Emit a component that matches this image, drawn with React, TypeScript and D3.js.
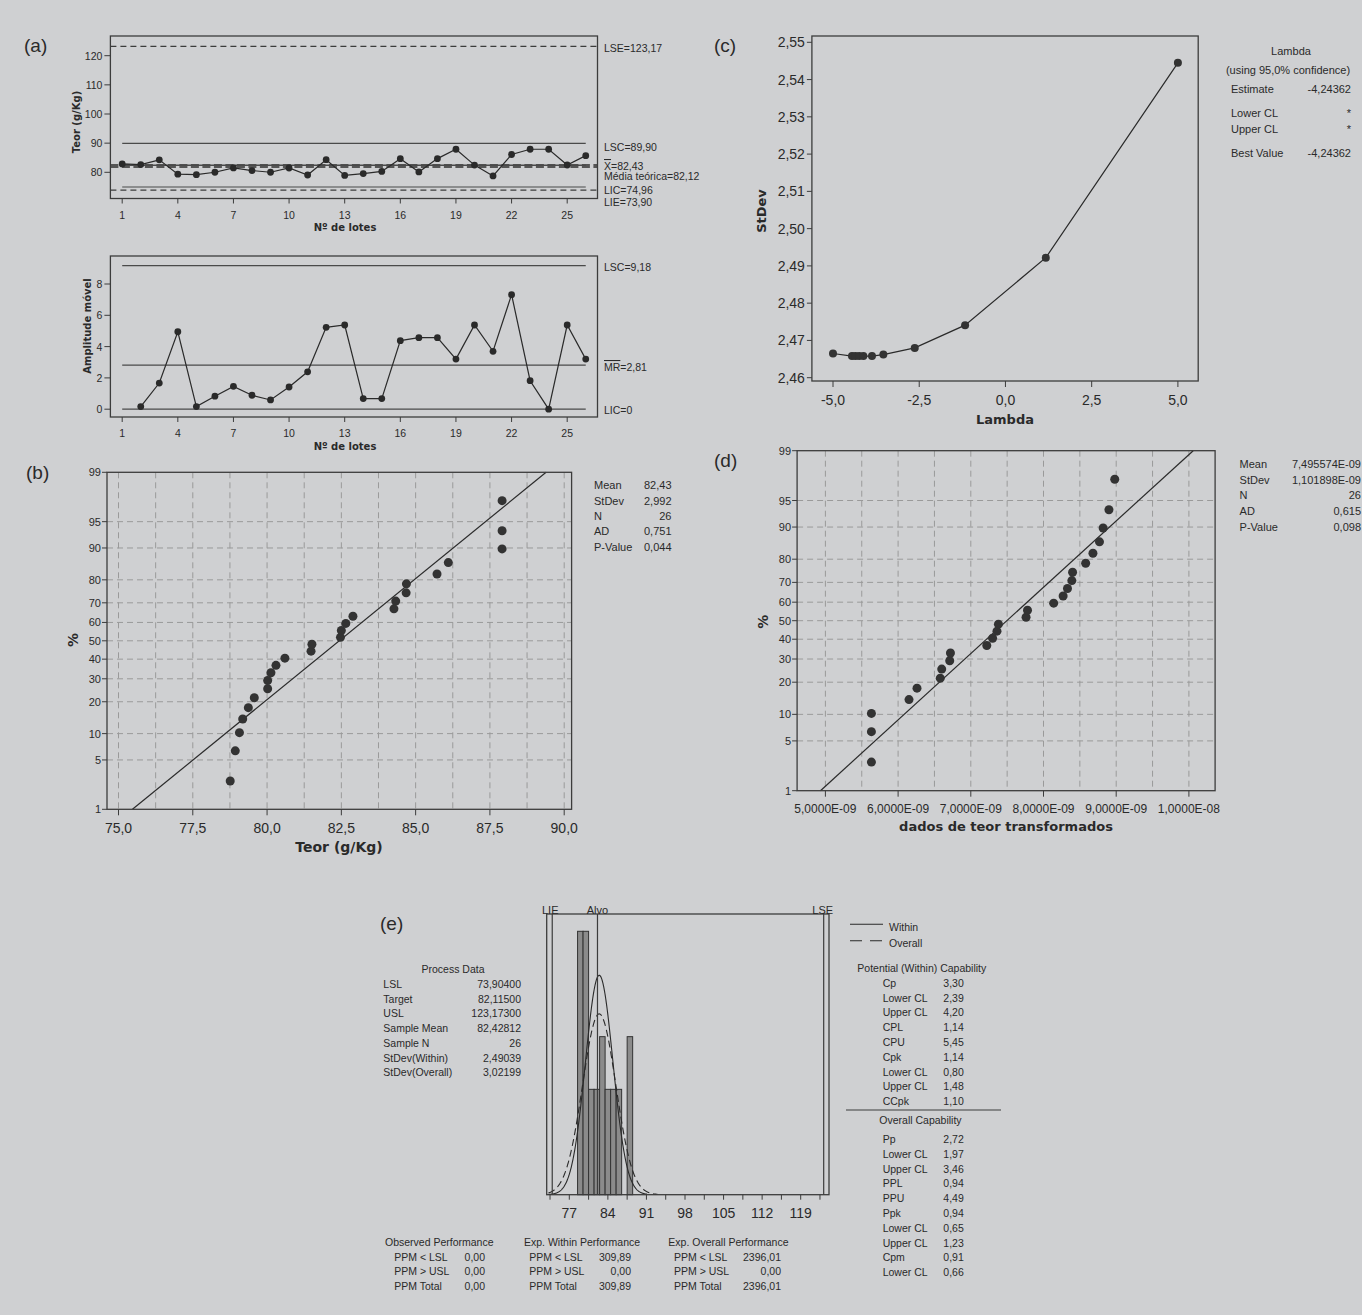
import React from "react";
import * as d3 from "d3";

const W = 1362;
const H = 1315;
const BG = "#cfd0d2";
const INK = "#2a2a2a";
const FRAME = "#3c3c3c";
const GRID = "#9a9a9a";
const SANS = "'Liberation Sans', Arial, sans-serif";
const BOLD = "'DejaVu Sans', Verdana, sans-serif";

// (a) individuals and moving range, 26 lots
const lots = d3.range(1, 27);
const teor = [82.89, 82.65, 84.27, 79.37, 79.18, 80.02, 81.51, 80.6, 80.02, 81.48, 79.07, 84.33, 78.93, 79.57, 80.3, 84.68, 80.13, 84.69, 87.91, 82.47, 78.76, 86.1, 87.91, 87.91, 82.5, 85.72];
const mrLots = d3.range(2, 27);
const movingRange = [0.17, 1.67, 4.95, 0.17, 0.83, 1.46, 0.89, 0.59, 1.42, 2.39, 5.23, 5.38, 0.68, 0.68, 4.38, 4.57, 4.57, 3.2, 5.38, 3.7, 7.32, 1.82, 0, 5.38, 3.2];
const lotTicks = [1, 4, 7, 10, 13, 16, 19, 22, 25];
const teorTicks = [80, 90, 100, 110, 120];
const mrTicks = [0, 2, 4, 6, 8];
const LSE = 123.17, LSC = 89.9, XBAR = 82.43, TARGET = 82.12, LIC = 74.96, LIE = 73.9;
const MR_LSC = 9.18, MR_BAR = 2.81, MR_LIC = 0;

// (b) normal probability plot of teor
const teorSorted = [78.76, 78.93, 79.07, 79.18, 79.37, 79.57, 80.02, 80.02, 80.13, 80.3, 80.6, 81.48, 81.51, 82.47, 82.5, 82.65, 82.89, 84.27, 84.33, 84.68, 84.69, 85.72, 86.1, 87.91, 87.91, 87.91];
const percentRank = [2.65, 6.44, 10.23, 14.02, 17.8, 21.59, 25.38, 29.17, 32.95, 36.74, 40.53, 44.32, 48.11, 51.89, 55.68, 59.47, 63.26, 67.05, 70.83, 74.62, 78.41, 82.2, 85.98, 89.77, 93.56, 97.35];
const probTicks = [1, 5, 10, 20, 30, 40, 50, 60, 70, 80, 90, 95, 99];
const teorAxisTicks = [75, 77.5, 80, 82.5, 85, 87.5, 90];
const teorGrid = [75, 76.25, 77.5, 78.75, 80, 81.25, 82.5, 83.75, 85, 86.25, 87.5, 88.75, 90];
const teorStats = [["Mean", "82,43"], ["StDev", "2,992"], ["N", "26"], ["AD", "0,751"], ["P-Value", "0,044"]];
const TEOR_MEAN = 82.43, TEOR_SD = 2.992;

// (c) Box-Cox
const lambdas = [-5, -4.45, -4.35, -4.24, -4.12, -3.87, -3.54, -2.63, -1.17, 1.17, 5];
const lambdaStdev = [2.4665, 2.4658, 2.4658, 2.4658, 2.4658, 2.4658, 2.4662, 2.468, 2.4741, 2.4922, 2.5445];
const lambdaTicks = [-5, -2.5, 0, 2.5, 5];
const stdevTicks = [2.46, 2.47, 2.48, 2.49, 2.5, 2.51, 2.52, 2.53, 2.54, 2.55];
const lambdaInfo = [["Estimate", "-4,24362", 89.3], ["Lower CL", "*", 112.7], ["Upper CL", "*", 129], ["Best Value", "-4,24362", 152.7]];

// (d) probability plot of transformed data (x 1E-09)
const transformed = [5.633, 5.633, 5.633, 6.15, 6.26, 6.58, 6.6, 6.71, 6.72, 7.22, 7.3, 7.36, 7.38, 7.76, 7.78, 8.14, 8.27, 8.33, 8.39, 8.4, 8.58, 8.68, 8.77, 8.82, 8.9, 8.98];
const transTicks = [5, 6, 7, 8, 9, 10];
const transGrid = [5, 5.5, 6, 6.5, 7, 7.5, 8, 8.5, 9, 9.5, 10];
const transStats = [["Mean", "7,495574E-09"], ["StDev", "1,101898E-09"], ["N", "26"], ["AD", "0,615"], ["P-Value", "0,098"]];
const TRANS_MEAN = 7.495574, TRANS_SD = 1.101898;

// (e) capability histogram
const binEdges = [78.5, 79.5, 80.5, 81.5, 82.5, 83.5, 84.5, 85.5, 86.5, 87.5, 88.5];
const binCounts = [5, 5, 2, 2, 3, 2, 2, 2, 0, 3];
const histTicks = [77, 84, 91, 98, 105, 112, 119];
const histMinor = [73.5, 77, 80.5, 84, 87.5, 91, 94.5, 98, 101.5, 105, 108.5, 112, 115.5, 119, 122.5];
const LSL_E = 73.904, TARGET_E = 82.115, USL_E = 123.173;
const SAMPLE_MEAN = 82.42812, SD_WITHIN = 2.49039, SD_OVERALL = 3.02199, SAMPLE_N = 26;
const processData = [["LSL", "73,90400"], ["Target", "82,11500"], ["USL", "123,17300"], ["Sample Mean", "82,42812"], ["Sample N", "26"], ["StDev(Within)", "2,49039"], ["StDev(Overall)", "3,02199"]];
const potential = [["Cp", "3,30"], ["Lower CL", "2,39"], ["Upper CL", "4,20"], ["CPL", "1,14"], ["CPU", "5,45"], ["Cpk", "1,14"], ["Lower CL", "0,80"], ["Upper CL", "1,48"], ["CCpk", "1,10"]];
const overall = [["Pp", "2,72"], ["Lower CL", "1,97"], ["Upper CL", "3,46"], ["PPL", "0,94"], ["PPU", "4,49"], ["Ppk", "0,94"], ["Lower CL", "0,65"], ["Upper CL", "1,23"], ["Cpm", "0,91"], ["Lower CL", "0,66"]];
const observedPerf = [["PPM < LSL", "0,00"], ["PPM > USL", "0,00"], ["PPM Total", "0,00"]];
const withinPerf = [["PPM < LSL", "309,89"], ["PPM > USL", "0,00"], ["PPM Total", "309,89"]];
const overallPerf = [["PPM < LSL", "2396,01"], ["PPM > USL", "0,00"], ["PPM Total", "2396,01"]];

const fmt = (v: number, d: number) => v.toFixed(d).replace(".", ",");

// inverse normal cdf (Acklam)
function qnorm(p: number): number {
  const a = [-39.69683028665376, 220.9460984245205, -275.9285104469687, 138.357751867269, -30.66479806614716, 2.506628277459239];
  const b = [-54.47609879822406, 161.5858368580409, -155.6989798598866, 66.80131188771972, -13.28068155288572];
  const c = [-0.007784894002430293, -0.3223964580411365, -2.400758277161838, -2.549732539343734, 4.374664141464968, 2.938163982698783];
  const d = [0.007784695709041462, 0.3224671290700398, 2.445134137142996, 3.754408661907416];
  const pl = 0.02425;
  if (p < pl) {
    const q = Math.sqrt(-2 * Math.log(p));
    return (((((c[0] * q + c[1]) * q + c[2]) * q + c[3]) * q + c[4]) * q + c[5]) / ((((d[0] * q + d[1]) * q + d[2]) * q + d[3]) * q + 1);
  }
  if (p > 1 - pl) {
    const q = Math.sqrt(-2 * Math.log(1 - p));
    return -(((((c[0] * q + c[1]) * q + c[2]) * q + c[3]) * q + c[4]) * q + c[5]) / ((((d[0] * q + d[1]) * q + d[2]) * q + d[3]) * q + 1);
  }
  const q = p - 0.5;
  const r = q * q;
  return ((((((a[0] * r + a[1]) * r + a[2]) * r + a[3]) * r + a[4]) * r + a[5]) * q) / (((((b[0] * r + b[1]) * r + b[2]) * r + b[3]) * r + b[4]) * r + 1);
}

function T({ x, y, children, size = 11, anchor = "start", weight = "normal", family = SANS, fill = INK, rotate = 0 }: any) {
  return (
    <text
      x={x}
      y={y}
      fontSize={size}
      textAnchor={anchor}
      fontWeight={weight}
      fontFamily={family}
      fill={fill}
      dominantBaseline="central"
      transform={rotate ? `rotate(${rotate} ${x} ${y})` : undefined}
    >
      {children}
    </text>
  );
}

function PanelA() {
  const x = d3.scaleLinear().domain([1, 25]).range([122.2, 567.2]);
  const fx0 = 110.4, fx1 = 597.5, lx = 604;
  const y = d3.scaleLinear().domain([80, 120]).range([172.3, 55.7]);
  const t0 = 36, t1 = 198.5;
  const ym = d3.scaleLinear().domain([0, 8]).range([409.2, 284]);
  const m0 = 256, m1 = 417;
  const xEnd = x(26);
  const path = d3.line<number>().x((_, i) => x(lots[i])).y((d) => y(d))(teor) || "";
  const mpath = d3.line<number>().x((_, i) => x(mrLots[i])).y((d) => ym(d))(movingRange) || "";

  const xAxis = (base: number, labelY: number) =>
    lotTicks.map((v) => (
      <g key={v}>
        <line x1={x(v)} x2={x(v)} y1={base} y2={base + 5} stroke={FRAME} />
        <T x={x(v)} y={labelY} size={10.5} anchor="middle">{v}</T>
      </g>
    ));

  return (
    <g>
      <T x={24} y={45} size={19}>(a)</T>

      {/* individuals chart */}
      <line x1={fx0} x2={fx1} y1={y(LSE)} y2={y(LSE)} stroke={FRAME} strokeWidth={1.2} strokeDasharray="6 4" />
      <line x1={x(1)} x2={xEnd} y1={y(LSC)} y2={y(LSC)} stroke="#4a4a4a" strokeWidth={1.2} />
      <line x1={fx0} x2={fx1} y1={y(TARGET)} y2={y(TARGET)} stroke="#555" strokeWidth={4} strokeDasharray="8 3.5" />
      <line x1={x(1)} x2={xEnd} y1={y(XBAR)} y2={y(XBAR)} stroke="#4a4a4a" strokeWidth={1.5} />
      <line x1={x(1)} x2={xEnd} y1={y(LIC)} y2={y(LIC)} stroke="#4a4a4a" strokeWidth={1.2} />
      <line x1={fx0} x2={fx1} y1={y(LIE)} y2={y(LIE)} stroke={FRAME} strokeWidth={1.2} strokeDasharray="6 4" />
      <path d={path} fill="none" stroke={INK} strokeWidth={1.2} />
      {teor.map((d, i) => <circle key={i} cx={x(lots[i])} cy={y(d)} r={3.4} fill={INK} />)}
      <rect x={fx0} y={t0} width={fx1 - fx0} height={t1 - t0} fill="none" stroke={FRAME} strokeWidth={1.3} />
      {teorTicks.map((v) => (
        <g key={v}>
          <line x1={fx0 - 6} x2={fx0} y1={y(v)} y2={y(v)} stroke={FRAME} />
          <T x={fx0 - 8} y={y(v)} size={10.5} anchor="end">{v}</T>
        </g>
      ))}
      {xAxis(t1, 215)}
      <T x={345} y={227.5} size={10} weight="bold" family={BOLD} anchor="middle">Nº de lotes</T>
      <T x={76} y={122} size={10} weight="bold" family={BOLD} anchor="middle" rotate={-90}>Teor (g/Kg)</T>
      <T x={lx} y={48} size={10.5}>LSE=123,17</T>
      <T x={lx} y={146.7} size={10.5}>LSC=89,90</T>
      <text x={lx} y={166} fontSize={10.5} fontFamily={SANS} fill={INK} dominantBaseline="central">
        <tspan style={{ textDecoration: "overline" }}>X</tspan>=82,43
      </text>
      <T x={lx} y={175.7} size={10.5}>Média teórica=82,12</T>
      <T x={lx} y={190} size={10.5}>LIC=74,96</T>
      <T x={lx} y={201.5} size={10.5}>LIE=73,90</T>

      {/* moving range chart */}
      <line x1={x(1)} x2={xEnd} y1={ym(MR_LSC)} y2={ym(MR_LSC)} stroke="#4a4a4a" strokeWidth={1.2} />
      <line x1={x(1)} x2={xEnd} y1={ym(MR_BAR)} y2={ym(MR_BAR)} stroke="#4a4a4a" strokeWidth={1.2} />
      <line x1={x(1)} x2={xEnd} y1={ym(MR_LIC)} y2={ym(MR_LIC)} stroke="#4a4a4a" strokeWidth={1.2} />
      <path d={mpath} fill="none" stroke={INK} strokeWidth={1.2} />
      {movingRange.map((d, i) => <circle key={i} cx={x(mrLots[i])} cy={ym(d)} r={3.4} fill={INK} />)}
      <rect x={fx0} y={m0} width={fx1 - fx0} height={m1 - m0} fill="none" stroke={FRAME} strokeWidth={1.3} />
      {mrTicks.map((v) => (
        <g key={v}>
          <line x1={fx0 - 6} x2={fx0} y1={ym(v)} y2={ym(v)} stroke={FRAME} />
          <T x={fx0 - 8} y={ym(v)} size={10.5} anchor="end">{v}</T>
        </g>
      ))}
      {xAxis(m1, 432.7)}
      <T x={345} y={446} size={10} weight="bold" family={BOLD} anchor="middle">Nº de lotes</T>
      <T x={87.5} y={326} size={10} weight="bold" family={BOLD} anchor="middle" rotate={-90}>Amplitude móvel</T>
      <T x={lx} y={267} size={10.5}>LSC=9,18</T>
      <text x={lx} y={367} fontSize={10.5} fontFamily={SANS} fill={INK} dominantBaseline="central">
        <tspan style={{ textDecoration: "overline" }}>MR</tspan>=2,81
      </text>
      <T x={lx} y={410} size={10.5}>LIC=0</T>
    </g>
  );
}

function ProbPlot(p: any) {
  const { fx0, fx1, fy0, fy1, x, grid, ticks, tickFmt, tickSize, tickLabelY, values, mean, sd } = p;
  const zLo = qnorm(0.01), zHi = qnorm(0.99);
  const yz = d3.scaleLinear().domain([zLo, zHi]).range([fy1, fy0]);
  const yp = (pct: number) => yz(qnorm(pct / 100));
  const fit = d3.line<number>().x((z) => x(mean + z * sd)).y((z) => yz(z))([zLo, zHi]) || "";
  return (
    <g>
      {probTicks.filter((v) => v > 1 && v < 99).map((v) => (
        <line key={v} x1={fx0} x2={fx1} y1={yp(v)} y2={yp(v)} stroke={GRID} strokeDasharray="6 4" />
      ))}
      {grid.map((v: number) => (
        <line key={v} x1={x(v)} x2={x(v)} y1={fy0} y2={fy1} stroke={GRID} strokeDasharray="6 4" />
      ))}
      <path d={fit} fill="none" stroke={INK} strokeWidth={1.2} />
      {values.map((v: number, i: number) => (
        <circle key={i} cx={x(v)} cy={yp(percentRank[i])} r={4.5} fill="#333" />
      ))}
      <rect x={fx0} y={fy0} width={fx1 - fx0} height={fy1 - fy0} fill="none" stroke={FRAME} strokeWidth={1.3} />
      {probTicks.map((v) => (
        <g key={v}>
          <line x1={fx0 - 5} x2={fx0} y1={yp(v)} y2={yp(v)} stroke={FRAME} />
          <T x={fx0 - 6} y={yp(v)} size={11} anchor="end">{v}</T>
        </g>
      ))}
      {ticks.map((v: number) => (
        <g key={v}>
          <line x1={x(v)} x2={x(v)} y1={fy1} y2={fy1 + 6} stroke={FRAME} />
          <T x={x(v)} y={tickLabelY} size={tickSize} anchor="middle">{tickFmt(v)}</T>
        </g>
      ))}
    </g>
  );
}

function PanelB() {
  const x = d3.scaleLinear().domain([75, 90]).range([118.5, 564.2]);
  const rows = [485, 500.7, 516, 531.3, 547.3];
  return (
    <g>
      <T x={26} y={472} size={19}>(b)</T>
      <ProbPlot fx0={107} fx1={571.6} fy0={472.3} fy1={809.3} x={x} grid={teorGrid} ticks={teorAxisTicks}
        tickFmt={(v: number) => fmt(v, 1)} tickSize={14} tickLabelY={828} values={teorSorted} mean={TEOR_MEAN} sd={TEOR_SD} />
      <T x={339} y={847} size={14} weight="bold" family={BOLD} anchor="middle">Teor (g/Kg)</T>
      <T x={73} y={640} size={14} weight="bold" family={BOLD} anchor="middle" rotate={-90}>%</T>
      {teorStats.map((s, i) => (
        <g key={s[0]}>
          <T x={594} y={rows[i]} size={11}>{s[0]}</T>
          <T x={671.5} y={rows[i]} size={11} anchor="end">{s[1]}</T>
        </g>
      ))}
    </g>
  );
}

function PanelC() {
  const fx0 = 811.9, fx1 = 1198.2, fy0 = 36, fy1 = 381;
  const x = d3.scaleLinear().domain([-5, 5]).range([833, 1177.9]);
  const y = d3.scaleLinear().domain([2.46, 2.55]).range([377.7, 42.3]);
  const path = d3.line<number>().x((_, i) => x(lambdas[i])).y((d) => y(d))(lambdaStdev) || "";
  return (
    <g>
      <T x={714} y={45} size={19}>(c)</T>
      <rect x={fx0} y={fy0} width={fx1 - fx0} height={fy1 - fy0} fill="none" stroke={FRAME} strokeWidth={1.3} />
      {stdevTicks.map((v) => (
        <g key={v}>
          <line x1={fx0 - 5} x2={fx0} y1={y(v)} y2={y(v)} stroke={FRAME} />
          <T x={fx0 - 7} y={y(v)} size={14} anchor="end">{fmt(v, 2)}</T>
        </g>
      ))}
      {lambdaTicks.map((v) => (
        <g key={v}>
          <line x1={x(v)} x2={x(v)} y1={fy1} y2={fy1 + 6} stroke={FRAME} />
          <T x={x(v)} y={400} size={14} anchor="middle">{fmt(v, 1)}</T>
        </g>
      ))}
      <path d={path} fill="none" stroke={INK} strokeWidth={1.2} />
      {lambdas.map((v, i) => <circle key={i} cx={x(v)} cy={y(lambdaStdev[i])} r={4} fill="#333" />)}
      <T x={1005} y={419} size={13} weight="bold" family={BOLD} anchor="middle">Lambda</T>
      <T x={761} y={211} size={13} weight="bold" family={BOLD} anchor="middle" rotate={-90}>StDev</T>
      <T x={1291} y={50.6} size={11} anchor="middle">Lambda</T>
      <T x={1288} y={70} size={11} anchor="middle">(using 95,0% confidence)</T>
      {lambdaInfo.map((r, i) => (
        <g key={i}>
          <T x={1231} y={r[2]} size={11}>{r[0]}</T>
          <T x={1351} y={r[2]} size={11} anchor="end">{r[1]}</T>
        </g>
      ))}
    </g>
  );
}

function PanelD() {
  const x = d3.scaleLinear().domain([5, 10]).range([825.4, 1188.9]);
  const rows = [464, 480, 495, 510.7, 526.7];
  const tickFmt = (v: number) => (v >= 10 ? `${fmt(v / 10, 4)}E-08` : `${fmt(v, 4)}E-09`);
  return (
    <g>
      <T x={714} y={460} size={19}>(d)</T>
      <ProbPlot fx0={797.1} fx1={1215.1} fy0={450.7} fy1={790.7} x={x} grid={transGrid} ticks={transTicks}
        tickFmt={tickFmt} tickSize={12} tickLabelY={808.5} values={transformed} mean={TRANS_MEAN} sd={TRANS_SD} />
      <T x={1006} y={826} size={13} weight="bold" family={BOLD} anchor="middle">dados de teor transformados</T>
      <T x={763} y={621.7} size={14} weight="bold" family={BOLD} anchor="middle" rotate={-90}>%</T>
      {transStats.map((s, i) => (
        <g key={s[0]}>
          <T x={1239.6} y={rows[i]} size={11}>{s[0]}</T>
          <T x={1361} y={rows[i]} size={11} anchor="end">{s[1]}</T>
        </g>
      ))}
    </g>
  );
}

function PanelE() {
  const fx0 = 546.7, fx1 = 829, fy0 = 914, fy1 = 1194.7;
  const x = d3.scaleLinear().domain([77, 119]).range([569.3, 800.7]);
  const y = d3.scaleLinear().domain([0, 5]).range([fy1, 931.3]);
  const binW = binEdges[1] - binEdges[0];
  const pdf = (v: number, m: number, s: number) => Math.exp(-0.5 * ((v - m) / s) ** 2) / (s * Math.sqrt(2 * Math.PI));
  const curve = (s: number) =>
    d3.line<number>().x((v) => x(v)).y((v) => y(SAMPLE_N * binW * pdf(v, SAMPLE_MEAN, s)))(
      d3.range(73.2, SAMPLE_MEAN + 3.5 * s, 0.05)
    ) || "";
  const fs = 10.5;
  const tableRow0 = 984, rowH = 14.7;
  return (
    <g>
      <T x={380} y={923} size={19}>(e)</T>

      {/* histogram */}
      {binCounts.map((c, i) =>
        c > 0 ? (
          <rect key={i} x={x(binEdges[i])} y={y(c)} width={x(binEdges[i + 1]) - x(binEdges[i])} height={y(0) - y(c)}
            fill="#8b8b8b" stroke="#333" strokeWidth={1} />
        ) : null
      )}
      <path d={curve(SD_WITHIN)} fill="none" stroke={INK} strokeWidth={1.1} />
      <path d={curve(SD_OVERALL)} fill="none" stroke={INK} strokeWidth={1.1} strokeDasharray="7 4" />
      <line x1={x(LSL_E)} x2={x(LSL_E)} y1={fy0} y2={fy1} stroke={FRAME} strokeWidth={1.2} />
      <line x1={x(USL_E)} x2={x(USL_E)} y1={fy0} y2={fy1} stroke={FRAME} strokeWidth={1.2} />
      <line x1={x(TARGET_E)} x2={x(TARGET_E)} y1={fy0} y2={fy1} stroke={FRAME} strokeWidth={1.2} />
      <rect x={fx0} y={fy0} width={fx1 - fx0} height={fy1 - fy0} fill="none" stroke={FRAME} strokeWidth={1.3} />
      {histMinor.map((v) => (
        <line key={v} x1={x(v)} x2={x(v)} y1={fy1} y2={fy1 + 5} stroke={FRAME} />
      ))}
      {histTicks.map((v) => (
        <T key={v} x={x(v)} y={1213} size={14} anchor="middle">{v}</T>
      ))}
      <T x={x(LSL_E) - 2} y={910} size={11} anchor="middle">LIE</T>
      <T x={x(TARGET_E)} y={910} size={11} anchor="middle">Alvo</T>
      <T x={x(USL_E) - 1} y={910} size={11} anchor="middle">LSE</T>

      {/* process data */}
      <T x={453} y={969} size={fs} anchor="middle">Process Data</T>
      {processData.map((r, i) => (
        <g key={r[0]}>
          <T x={383.3} y={tableRow0 + i * rowH} size={fs}>{r[0]}</T>
          <T x={521} y={tableRow0 + i * rowH} size={fs} anchor="end">{r[1]}</T>
        </g>
      ))}

      {/* performance */}
      <T x={385} y={1241.7} size={fs}>Observed Performance</T>
      {observedPerf.map((r, i) => (
        <g key={r[0]}>
          <T x={394.3} y={1256.7 + i * 14.7} size={fs}>{r[0]}</T>
          <T x={485} y={1256.7 + i * 14.7} size={fs} anchor="end">{r[1]}</T>
        </g>
      ))}
      <T x={524} y={1241.7} size={fs}>Exp. Within Performance</T>
      {withinPerf.map((r, i) => (
        <g key={r[0]}>
          <T x={529.3} y={1256.7 + i * 14.7} size={fs}>{r[0]}</T>
          <T x={631} y={1256.7 + i * 14.7} size={fs} anchor="end">{r[1]}</T>
        </g>
      ))}
      <T x={668.3} y={1241.7} size={fs}>Exp. Overall Performance</T>
      {overallPerf.map((r, i) => (
        <g key={r[0]}>
          <T x={674} y={1256.7 + i * 14.7} size={fs}>{r[0]}</T>
          <T x={781} y={1256.7 + i * 14.7} size={fs} anchor="end">{r[1]}</T>
        </g>
      ))}

      {/* legend */}
      <line x1={850} x2={883} y1={924.3} y2={924.3} stroke={INK} strokeWidth={1.1} />
      <T x={889} y={927} size={fs}>Within</T>
      <line x1={850} x2={883} y1={940.7} y2={940.7} stroke={INK} strokeWidth={1.1} strokeDasharray="12 8" />
      <T x={889} y={943.3} size={fs}>Overall</T>

      {/* capability */}
      <T x={857.3} y={968.3} size={fs}>Potential (Within) Capability</T>
      {potential.map((r, i) => (
        <g key={i}>
          <T x={882.7} y={982.7 + i * 14.8} size={fs}>{r[0]}</T>
          <T x={943.3} y={982.7 + i * 14.8} size={fs}>{r[1]}</T>
        </g>
      ))}
      <line x1={846} x2={1001} y1={1110} y2={1110} stroke={FRAME} strokeWidth={1.2} />
      <T x={879.3} y={1120} size={fs}>Overall Capability</T>
      {overall.map((r, i) => (
        <g key={i}>
          <T x={882.7} y={1139 + i * 14.8} size={fs}>{r[0]}</T>
          <T x={943.3} y={1139 + i * 14.8} size={fs}>{r[1]}</T>
        </g>
      ))}
    </g>
  );
}

export default function App() {
  return (
    <svg width={W} height={H} viewBox={`0 0 ${W} ${H}`} style={{ position: "absolute", left: 0, top: 0, display: "block" }}>
      <rect width={W} height={H} fill={BG} />
      <PanelA />
      <PanelB />
      <PanelC />
      <PanelD />
      <PanelE />
    </svg>
  );
}
